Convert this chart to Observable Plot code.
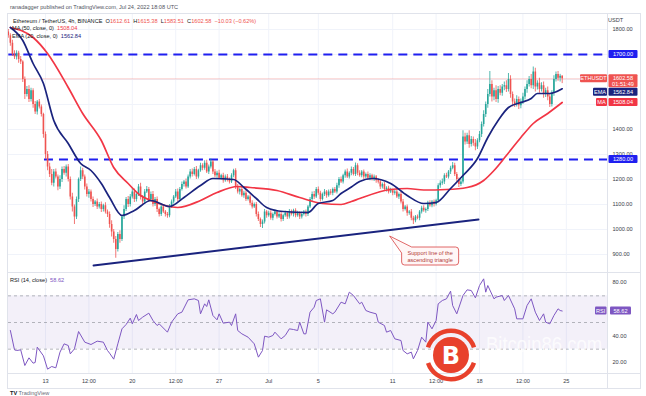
<!DOCTYPE html>
<html><head><meta charset="utf-8">
<script src="https://cdn.jsdelivr.net/npm/d3@7"></script>
<script src="https://cdn.jsdelivr.net/npm/@observablehq/plot@0.6"></script>
<style>
html,body{margin:0;padding:0;background:#fff;}
#wrap{position:relative;width:646px;height:396px;overflow:hidden;font-family:"Liberation Sans",Arial,sans-serif;background:#fff;}
.t{position:absolute;white-space:nowrap;font-size:5.6px;line-height:6px;color:#131722;}
.r{color:#ef5350;} .n{color:#1a237e;} .p{color:#7e57c2;}
</style></head><body><div id="wrap"></div>
<script>
// ---------- DATA ----------
const firstOpen = 1790;
const closes = [
1775,1745,1700,1690,1705,1680,1670,1600,1540,1560,
1520,1555,1500,1470,1510,1490,1460,1380,1300,1250,
1220,1185,1230,1210,1170,1200,1240,1225,1250,1200,
1130,1090,1050,1120,1200,1235,1210,1170,1140,1150,
1120,1100,1110,1090,1100,1080,1095,1070,1060,1020,
990,960,920,980,960,1050,1080,1120,1100,1130,
1150,1120,1140,1170,1130,1110,1150,1160,1120,1140,
1100,1120,1080,1060,1090,1070,1060,1055,1090,1110,
1130,1150,1120,1160,1180,1190,1170,1210,1230,1220,
1240,1210,1235,1255,1245,1265,1230,1250,1270,1230,
1215,1225,1205,1215,1195,1210,1200,1190,1215,1235,
1170,1150,1160,1135,1145,1120,1130,1105,1090,1100,
1060,1040,1020,1030,1070,1055,1065,1045,1060,1070,
1050,1060,1040,1055,1065,1050,1070,1060,1075,1055,
1065,1050,1060,1070,1060,1090,1120,1140,1130,1160,
1145,1120,1140,1150,1135,1150,1145,1160,1150,1175,
1200,1190,1215,1230,1210,1225,1240,1220,1255,1225,
1215,1230,1210,1220,1205,1215,1200,1210,1195,1190,
1170,1180,1160,1165,1150,1155,1145,1150,1130,1140,
1110,1080,1090,1065,1070,1045,1035,1050,1045,1070,
1085,1075,1080,1105,1095,1110,1100,1115,1175,1185,
1190,1215,1210,1230,1245,1255,1220,1200,1180,1190,
1370,1350,1375,1340,1360,1345,1330,1355,1380,1420,
1460,1500,1540,1580,1530,1555,1520,1560,1545,1570,
1575,1560,1600,1540,1510,1500,1520,1495,1510,1530,
1560,1580,1600,1575,1630,1570,1585,1560,1575,1540,
1555,1530,1500,1545,1600,1620,1605,1612.61,1602.58];
const wickUp = [
10,8,12,15,10,8,12,5,10,12, 15,10,8,12,6,10,8,5,10,12, 15,20,10,12,8,15,10,12,8,10,
10,15,8,10,6,15,10,8,12,10, 8,10,6,12,8,10,6,12,8,10, 15,10,12,8,15,6,15,8,12,10,
15,12,8,10,15,6,10,12,8,10, 12,8,10,6,8,10,6,8,10,8, 6,10,12,8,10,6,12,8,10,12,
8,12,6,10,8,10,12,8,12,6, 10,8,12,6,10,8,10,6,8,6, 8,10,6,12,8,10,6,8,10,6,
8,10,6,8,10,6,8,10,6,8, 6,8,10,6,8,6,10,8,6,8, 8,6,10,6,8,6,8,10,12,8,
10,8,6,10,6,8,10,6,8,10, 8,10,6,8,12,6,10,8,11,8, 10,6,8,6,10,8,6,8,6,8,
10,6,8,6,8,10,6,8,10,6, 8,10,6,8,6,10,8,6,8,6, 8,10,6,8,10,6,8,6,8,10,
12,8,10,6,8,13,10,8,6,10, 25,15,10,20,12,10,15,8,12,10, 15,10,20,52,15,10,20,12,15,10,
15,20,24,15,10,12,15,10,12,15, 10,15,12,20,20,15,10,20,12,15, 10,15,12,10,15,10,12,8,2.77];
const wickDn = [
10,12,8,10,12,15,10,12,20,10, 12,10,15,10,12,8,10,15,20,15, 12,10,15,8,15,10,12,8,15,10,
12,20,30,10,12,8,10,12,10,15, 10,12,8,10,8,12,10,8,12,15, 20,15,35,10,15,8,10,8,12,10,
8,12,10,8,12,10,8,6,12,10, 10,8,12,10,8,6,10,10,8,6, 8,6,10,8,6,10,8,6,8,10,
6,10,8,6,10,8,6,10,8,10, 8,10,6,8,10,6,10,8,6,8, 10,8,12,6,10,8,6,10,8,6,
10,8,12,16,8,10,6,8,10,6, 8,6,10,8,6,10,8,6,10,8, 6,10,8,6,10,8,6,8,10,6,
8,10,6,8,10,6,8,10,6,8, 10,6,8,10,6,8,10,6,8,10, 6,8,10,6,8,10,6,8,10,8,
10,8,6,10,8,6,10,8,6,10, 8,10,6,12,8,10,15,8,6,10, 8,6,10,8,6,8,10,6,8,10,
8,10,6,8,10,6,8,10,12,8, 8,12,10,15,10,12,15,10,8,12, 10,12,15,10,20,15,12,15,10,12,
15,12,10,15,20,12,10,15,12,10, 12,15,10,12,15,20,12,15,10,15, 12,15,12,10,12,10,12,15,19.07];

const emaIdx = [1,7,12,17,22,29,35,40,45,49,55,61,69,78,85,93,99,109,114,120,125,133,145,150,157,161,166,170,176,185,193,201,207,214,220,227,232,237,242,248,253,256,262,268];
const emaVal = [1808,1756,1664,1584,1436,1344,1264,1236,1184,1128,1056,1076,1116,1092,1128,1176,1204,1200,1168,1124,1088,1072,1068,1104,1116,1144,1170,1192,1204,1184,1136,1104,1108,1164,1216,1284,1368,1436,1488,1508,1524,1544,1544,1562.84];
const maIdx = [1,12,19,29,36,45,51,58,64,69,82,93,101,111,117,130,141,152,161,166,170,185,193,201,212,222,230,235,241,248,254,261,268];
const maVal = [1808,1768,1704,1568,1464,1356,1248,1184,1136,1116,1088,1116,1148,1172,1168,1156,1128,1104,1100,1112,1124,1160,1164,1158,1160,1168,1196,1236,1296,1368,1424,1464,1508.04];

const rsiIdx = [1,3,4,6,8,10,12,13,14,17,19,21,23,25,27,29,30,32,34,37,40,43,46,48,49,51,53,55,57,59,60,62,63,65,68,70,72,73,77,79,82,84,87,90,92,93,95,96,97,99,101,102,104,107,108,110,111,113,116,119,121,123,124,126,128,129,132,134,136,138,140,141,143,144,146,148,149,151,153,154,157,158,161,163,165,167,170,171,173,175,178,179,182,183,185,187,190,191,193,195,196,198,200,202,203,205,207,208,210,212,214,215,217,220,222,224,226,228,230,231,232,235,236,239,240,242,245,246,249,251,253,255,257,259,260,262,264,266,267,268];
const rsiVal = [44,29.5,29,29.5,17.75,23.5,19.5,20,31.5,25,15,17,16,27.75,34,32.75,26.5,30.25,43.25,35.25,33.5,36,35.25,29,27,22.5,34,45.25,48.5,53.25,49,56,51.5,54,57,51.5,47.75,49,42.75,50.25,56.5,57.75,67,67.75,66.5,56.5,64,62,67,55.25,52,56.5,49.5,50.25,47.75,56.5,44,41.5,39,34,24,29,39.75,39,40.25,42.75,37.75,40.25,45.25,44.75,44,50.25,41.5,41.5,57.75,61.5,66.5,67.75,50.25,59.5,56.5,57.75,65.25,64,72.75,70.25,64,65.25,59,57.75,56.5,50.25,47.75,42.75,44,37.75,36.5,29,26.5,27.75,22.75,29,39,35.25,50.25,45.25,51.5,64,66.5,67.75,73.5,62.75,56.5,70.25,74.5,74,68.5,77.75,82.75,72.75,77.75,67.75,69,70.25,66.5,70.25,60.25,52.75,52.75,62.75,67.75,57.75,51.5,56.5,50.25,49,55.25,60.25,59,58.62];

const levelPrices = [1700, 1280];
const levelStarts = ["2022-06-10T01:00Z", "2022-06-12T22:00Z"];
const supportDates = ["2022-06-16T21:00Z", "2022-07-17T22:00Z"];
const supportPrices = [856, 1040];
const gridPrices = [900,1000,1100,1200,1300,1400,1500,1600,1700,1800];
const priceTicks = [900,1000,1100,1200,1300,1400,1800];
const rsiTicks = [20,40,80];
const rsiLevels = [30,50,70];
const tickDates = ["2022-06-13T00:00Z","2022-06-16T12:00Z","2022-06-20T00:00Z","2022-06-23T12:00Z","2022-06-27T00:00Z","2022-07-01T00:00Z","2022-07-05T00:00Z","2022-07-11T00:00Z","2022-07-14T12:00Z","2022-07-18T00:00Z","2022-07-21T12:00Z","2022-07-25T00:00Z"];
const tickLabels = ["13","12:00","20","12:00","27","Jul","5","11","12:00","18","12:00","25"];
const lastClose = 1602.58, emaLast = 1562.84, maLast = 1508.04, rsiLast = 58.62;
const annotation = {date: "2022-07-10T19:00Z", price: 972, lines: ["Support line of the", "ascending triangle"]};

// ---------- BUILD ----------
const T0 = Date.UTC(2022,5,10,0,0), H4 = 4*3600e3;
const dateOf = i => new Date(T0 + i*H4);
const candles = closes.map((c,i)=>{const o = i ? closes[i-1] : firstOpen;
  return {date: dateOf(i), open: o, close: c, high: Math.max(o,c)+wickUp[i], low: Math.min(o,c)-wickDn[i], up: c >= o};});
const ema = emaIdx.map((k,j)=>({date: dateOf(k), v: emaVal[j]}));
const ma = maIdx.map((k,j)=>({date: dateOf(k), v: maVal[j]}));
const rsi = rsiIdx.map((k,j)=>({date: dateOf(k), v: rsiVal[j]}));
const xDomain = [new Date("2022-06-10T00:23Z"), new Date("2022-07-28T07:41Z")];
const levels = levelPrices.map((p,j)=>({price: p, start: new Date(levelStarts[j]), end: xDomain[1]}));
const support = supportDates.map((d,j)=>({date: new Date(d), price: supportPrices[j]}));
const tDates = tickDates.map(d=>new Date(d));
const labelMap = new Map(tDates.map((d,i)=>[+d, tickLabels[i]]));

const GREEN="#26a69a", RED="#ef5350", NAVY="#1a237e", MARED="#f23645", BLUE="#1f1ff0", PURP="#7e57c2", GRID="#f0f3fa", AX="#3a3e4a";
const FONT = "Liberation Sans, Arial, sans-serif";
const wrap = document.getElementById("wrap");

const priceChart = Plot.plot({
  width: 646, height: 272, marginLeft: 8, marginRight: 39, marginTop: 14, marginBottom: 1,
  x: {type: "utc", domain: xDomain, axis: null},
  y: {domain: [832, 1860], axis: null},
  style: {fontFamily: FONT, background: "transparent", overflow: "visible"},
  marks: [
    Plot.ruleX(tDates, {stroke: GRID}),
    Plot.ruleY(gridPrices, {stroke: GRID}),
    Plot.ruleY([lastClose], {stroke: RED, strokeOpacity: 0.3}),
    Plot.ruleY(levels, {y: "price", x1: "start", x2: "end", stroke: BLUE, strokeWidth: 2, strokeDasharray: "9,6"}),
    Plot.line(support, {x: "date", y: "price", stroke: NAVY, strokeWidth: 2}),
    Plot.ruleX(candles.filter(d=>d.up), {x: "date", y1: "low", y2: "high", stroke: GREEN, strokeWidth: 0.8}),
    Plot.ruleX(candles.filter(d=>!d.up), {x: "date", y1: "low", y2: "high", stroke: RED, strokeWidth: 0.8}),
    Plot.ruleX(candles.filter(d=>d.up), {x: "date", y1: "open", y2: "close", stroke: GREEN, strokeWidth: 1.6}),
    Plot.ruleX(candles.filter(d=>!d.up), {x: "date", y1: "open", y2: "close", stroke: RED, strokeWidth: 1.6}),
    Plot.line(ma, {x: "date", y: "v", stroke: MARED, strokeWidth: 1.7, curve: "monotone-x"}),
    Plot.line(ema, {x: "date", y: "v", stroke: NAVY, strokeWidth: 1.7, curve: "monotone-x"}),
    Plot.axisY(priceTicks, {anchor: "right", tickFormat: d=>d.toFixed(2), tickSize: 0, tickPadding: 5, fontSize: 5.6, fill: AX})
  ]
});
priceChart.style.position = "absolute"; priceChart.style.left = "0px"; priceChart.style.top = "0px";
wrap.appendChild(priceChart);

const rsiChart = Plot.plot({
  width: 646, height: 116, marginLeft: 8, marginRight: 39, marginTop: 1, marginBottom: 15,
  x: {type: "utc", domain: xDomain, axis: null},
  y: {domain: [11.75, 86.75], axis: null},
  style: {fontFamily: FONT, background: "transparent", overflow: "visible"},
  marks: [
    Plot.ruleX(tDates, {stroke: GRID}),
    Plot.rect([{a: xDomain[0], b: xDomain[1], lo: rsiLevels[0], hi: rsiLevels[2]}], {x1: "a", x2: "b", y1: "lo", y2: "hi", fill: PURP, fillOpacity: 0.09}),
    Plot.ruleY(rsiLevels, {stroke: "#9598a1", strokeDasharray: "3,3", strokeWidth: 0.7}),
    Plot.line(rsi, {x: "date", y: "v", stroke: PURP, strokeWidth: 1}),
    Plot.axisY(rsiTicks, {anchor: "right", tickFormat: d=>d.toFixed(2), tickSize: 0, tickPadding: 5, fontSize: 5.6, fill: AX}),
    Plot.axisX(tDates, {tickFormat: d=>labelMap.get(+d), tickSize: 0, tickPadding: 6, fontSize: 5.6, fill: AX})
  ]
});
rsiChart.style.position = "absolute"; rsiChart.style.left = "0px"; rsiChart.style.top = "272px";
wrap.appendChild(rsiChart);

// ---------- price-scale label boxes (positioned through Plot's scales) ----------
function addBox(svg, x, top, w, h, fill, texts) {
  const g = d3.select(svg).append("g").attr("font-family", FONT);
  g.append("rect").attr("x", x).attr("y", top).attr("width", w).attr("height", h).attr("fill", fill).attr("rx", 1);
  texts.forEach((t,k)=> g.append("text").attr("x", x + w/2).attr("y", top + 4 + k*5.3)
    .attr("text-anchor", "middle").attr("dominant-baseline", "central").attr("font-size", "5.6px").attr("fill", "#fff").text(t));
}
const yP = priceChart.scale("y"), xP = priceChart.scale("x");
levels.forEach(l => addBox(priceChart, 608.5, yP.apply(l.price) - 4, 29, 8, BLUE, [l.price.toFixed(2)]));
let top1 = yP.apply(lastClose) - 4;
addBox(priceChart, 580, top1, 27, 8, RED, ["ETHUSDT"]);
addBox(priceChart, 608.5, top1, 29, 13, RED, [lastClose.toFixed(2), "01:51:49"]);
let top2 = Math.max(yP.apply(emaLast) - 4, top1 + 13.5);
addBox(priceChart, 593, top2, 14, 8, NAVY, ["EMA"]);
addBox(priceChart, 608.5, top2, 29, 8, NAVY, [emaLast.toFixed(2)]);
let top3 = Math.max(yP.apply(maLast) - 4, top2 + 8.5);
addBox(priceChart, 596, top3, 11, 8, MARED, ["MA"]);
addBox(priceChart, 608.5, top3, 29, 8, MARED, [maLast.toFixed(2)]);
const yR = rsiChart.scale("y");
addBox(rsiChart, 595, yR.apply(rsiLast) - 4, 11.5, 8, PURP, ["RSI"]);
addBox(rsiChart, 610, yR.apply(rsiLast) - 4, 21, 8, PURP, [rsiLast.toFixed(2)]);

// ---------- annotation callout ----------
{
  const tx = xP.apply(new Date(annotation.date)), ty = yP.apply(annotation.price);
  const x0 = tx + 12, y0 = ty + 11, x1 = x0 + 57, y1 = y0 + 18, r = 3;
  const g = d3.select(priceChart).append("g");
  g.append("path").attr("d", `M${x0},${y0+6}L${tx},${ty}L${x0+10},${y0}L${x1-r},${y0}Q${x1},${y0} ${x1},${y0+r}L${x1},${y1-r}Q${x1},${y1} ${x1-r},${y1}L${x0+r},${y1}Q${x0},${y1} ${x0},${y1-r}Z`)
    .attr("fill", "#fff6f6").attr("stroke", "#d84343").attr("stroke-width", 0.8);
  annotation.lines.forEach((s,k)=> g.append("text").attr("x", (x0+x1)/2).attr("y", y0 + 6 + k*6.5)
    .attr("text-anchor", "middle").attr("dominant-baseline", "central").attr("font-family", FONT)
    .attr("font-size", "5.6px").attr("fill", "#b23a3a").text(s));
}

// ---------- header / legends ----------
function txt(left, top, html, extra="") {
  const d = document.createElement("div"); d.className = "t"; d.style.left = left+"px"; d.style.top = top+"px";
  if (extra) d.style.cssText += extra; d.innerHTML = html; wrap.appendChild(d);
}
txt(10, 4, "ranadagger published on TradingView.com, Jul 24, 2022 18:08 UTC", "color:#50535e;");
txt(13, 18, 'Ethereum / TetherUS, 4h, BINANCE &nbsp;O<span class="r">1612.61</span> &nbsp;H<span class="r">1615.38</span> &nbsp;L<span class="r">1583.51</span> &nbsp;C<span class="r">1602.58</span> &nbsp;<span class="r">−10.03 (−0.62%)</span>');
txt(12, 25, 'MA (50, close, 0) &nbsp;<span style="color:#f23645">1508.04</span>');
txt(12, 33, 'EMA (20, close, 0) &nbsp;<span class="n">1562.84</span>');
txt(608, 17, 'USDT', "color:#3a3e4a;");
txt(10, 277, 'RSI (14, close) &nbsp;<span class="p">58.62</span>');
txt(10, 390, '<b style="color:#131722">TV</b> TradingView', "color:#6a6d78;");

// ---------- frame + watermark overlay ----------
const ov = d3.select(wrap).append("svg").attr("width", 646).attr("height", 396)
  .style("position", "absolute").style("left", 0).style("top", 0).style("pointer-events", "none");
const FR = "#e0e3eb";
[[8,13.5,640,13.5],[8,272.5,640,272.5],[8,373.5,640,373.5],[8,388.5,640,388.5],[7.5,13,7.5,389],[607.5,13,607.5,389],[640.5,13,640.5,389]]
  .forEach(([a,b,c,e])=> ov.append("line").attr("x1",a).attr("y1",b).attr("x2",c).attr("y2",e).attr("stroke",FR).attr("stroke-width",1));
const wm = ov.append("g").attr("transform", "translate(451,355)");
const arc = d3.arc().innerRadius(22).outerRadius(26.5);
wm.append("path").attr("d", arc({startAngle: -1.25, endAngle: 1.25})).attr("fill", "#e8412c");
wm.append("path").attr("d", arc({startAngle: 1.9, endAngle: 4.38})).attr("fill", "#e8412c");
wm.append("circle").attr("r", 18).attr("fill", "#e8412c");
wm.append("text").attr("text-anchor", "middle").attr("dominant-baseline", "central").attr("y", 1)
  .attr("font-family", "DejaVu Sans, sans-serif").attr("font-weight", "bold").attr("font-size", "24px").attr("fill", "#fff").text("B");
ov.append("g").attr("transform", "translate(486,352) scale(1,1.2)")
  .append("text").attr("x", 0).attr("y", 0).attr("font-family", "Liberation Sans, Arial, sans-serif").attr("font-size", "18.5px")
  .attr("fill", "#fff").attr("fill-opacity", 0.75).text("Bitcoin86.com");
</script></body></html>
